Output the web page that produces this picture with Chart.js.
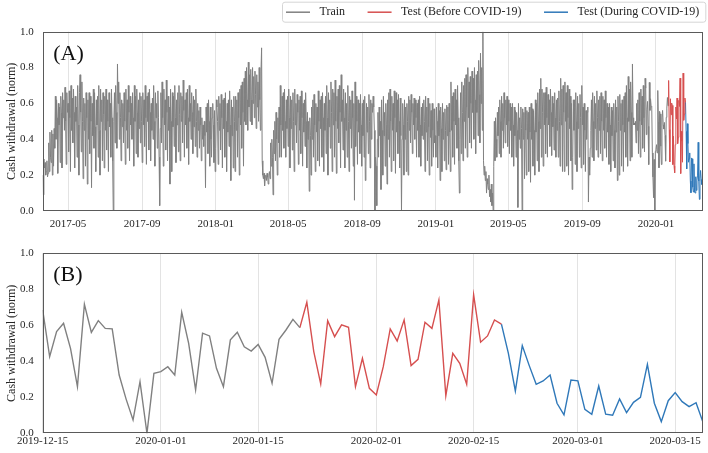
<!DOCTYPE html>
<html><head><meta charset="utf-8">
<script src="https://cdn.jsdelivr.net/npm/chart.js@4.4.1/dist/chart.umd.min.js"></script>
<style>
html,body{margin:0;padding:0;background:#fff;}
#wrap{position:relative;width:708px;height:453px;overflow:hidden;}
.box{position:absolute;left:0;width:708px;}
</style></head><body>
<div id="wrap">
<div class="box" style="top:0;height:236px"><canvas id="ca" width="708" height="236"></canvas></div>
<div class="box" style="top:236px;height:217px"><canvas id="cb" width="708" height="217"></canvas></div>
</div>
<script>
// ---------------- DATA ----------------
const startDate = '2017-03-20';
const zoomStart = '2019-12-15';
const testStart = '2020-01-21';   // Test (Before COVID-19)
const covidStart = '2020-02-19';  // Test (During COVID-19)
const seriesNames = ['Train', 'Test (Before COVID-19)', 'Test (During COVID-19)'];
const tickLabelsA = ['2017-05','2017-09','2018-01','2018-05','2018-09','2019-01','2019-05','2019-09','2020-01'];
const tickLabelsB = ['2019-12-15','2020-01-01','2020-01-15','2020-02-01','2020-02-15','2020-03-01','2020-03-15'];

// daily normalized cash withdrawal, 2017-03-20 .. 2019-12-14 (estimated from panel A)
const m2017_03 = [.20,.09,.29,.24,.27,.20,.22,.28,.19,.21,.38,.22];
const m2017_04 = [.44,.30,.27,.45,.20,.43,.25,.46,.35,.64,.40,.62,.52,.21,.60,.48,.58,.27,.64,.55,.24,.66,.52,.62,.45,.69,.50,.26,.66,.55];
const m2017_05 = [.60,.33,.67,.52,.22,.70,.45,.63,.38,.68,.55,.24,.64,.50,.58,.30,.70,.48,.20,.66,.76,.55,.33,.72,.50,.18,.63,.45,.60,.25,.66];
const m2017_06 = [.52,.15,.62,.40,.66,.32,.64,.50,.13,.60,.42,.68,.35,.66,.47,.22,.62,.48,.64,.30,.70,.45,.20,.68,.50,.62,.28,.66,.54,.24];
const m2017_07 = [.64,.45,.68,.34,.62,.50,.22,.66,.47,.60,.30,.68,.52,.28,.00,.50,.66,.38,.70,.55,.35,.82,.60,.72,.40,.66,.52,.28,.62,.47,.60];
const m2017_08 = [.38,.66,.50,.26,.68,.45,.62,.35,.70,.55,.28,.64,.48,.60,.40,.66,.52,.25,.70,.50,.64,.32,.68,.55,.30,.62,.46,.66,.38,.64,.50];
const m2017_09 = [.27,.66,.48,.62,.36,.70,.52,.26,.64,.50,.66,.34,.68,.55,.28,.60,.45,.63,.40,.70,.50,.25,.66,.52,.60,.35,.67,.52,.30,.03];
const m2017_10 = [.46,.66,.38,.72,.52,.25,.68,.48,.62,.34,.73,.55,.28,.64,.45,.58,.15,.68,.50,.22,.66,.47,.64,.36,.70,.52,.27,.62,.48,.66,.33];
const m2017_11 = [.70,.54,.28,.66,.50,.64,.38,.73,.56,.30,.62,.48,.66,.35,.68,.52,.26,.70,.50,.60,.40,.66,.55,.32,.64,.47,.62,.36,.68,.50];
const m2017_12 = [.30,.60,.45,.56,.35,.58,.48,.28,.52,.40,.48,.36,.50,.42,.13,.58,.44,.60,.32,.62,.50,.25,.58,.40,.30,.52,.60,.48,.27,.56,.22];
const m2018_01 = [.35,.62,.58,.50,.26,.64,.45,.60,.34,.65,.52,.24,.62,.46,.63,.30,.66,.50,.22,.60,.44,.62,.36,.67,.48,.17,.62,.42,.58,.24,.64];
const m2018_02 = [.50,.22,.64,.45,.62,.30,.66,.52,.20,.68,.48,.70,.35,.72,.55,.25,.74,.50,.78,.48,.80,.62,.45,.83,.58,.76,.50,.79];
const m2018_03 = [.62,.48,.80,.60,.75,.52,.78,.65,.46,.76,.58,.72,.50,.80,.62,.45,.78,.91,.28,.20,.18,.21,.14,.19,.20,.17,.21,.19,.15,.20,.22];
const m2018_04 = [.18,.38,.25,.40,.30,.09,.45,.32,.50,.28,.55,.40,.20,.52,.38,.58,.30,.70,.48,.30,.64,.45,.66,.35,.68,.50,.30,.62,.46,.64];
const m2018_05 = [.36,.68,.52,.24,.64,.46,.62,.34,.66,.50,.22,.68,.48,.60,.38,.65,.55,.26,.62,.45,.64,.32,.67,.52,.25,.60,.44,.62,.36,.66,.50];
const m2018_06 = [.24,.55,.40,.50,.11,.52,.42,.20,.58,.40,.62,.30,.65,.48,.22,.60,.44,.58,.28,.67,.50,.25,.62,.46,.64,.30,.66,.52,.22,.60];
const m2018_07 = [.45,.64,.32,.70,.52,.20,.66,.47,.62,.35,.72,.55,.22,.68,.48,.66,.30,.73,.50,.21,.64,.46,.68,.38,.70,.55,.24,.76,.50,.62,.34];
const m2018_08 = [.68,.52,.24,.66,.45,.60,.30,.70,.50,.22,.64,.46,.62,.35,.67,.52,.25,.60,.06,.72,.36,.64,.50,.26,.62,.44,.60,.32,.65,.48,.25];
const m2018_09 = [.60,.42,.62,.30,.64,.17,.25,.60,.44,.58,.32,.65,.50,.24,.62,.40,.60,.55,.64,.58,.45,.00,.30,.25,.03,.40,.55,.30,.58,.42];
const m2018_10 = [.50,.12,.62,.45,.20,.64,.42,.55,.25,.60,.48,.15,.62,.40,.66,.30,.68,.50,.22,.64,.45,.60,.28,.67,.52,.21,.66,.44,.62,.32,.65];
const m2018_11 = [.50,.24,.63,.42,.00,.40,.60,.48,.20,.62,.40,.58,.22,.60,.50,.20,.64,.45,.62,.38,.65,.55,.32,.60,.48,.63,.40,.62,.52,.30];
const m2018_12 = [.60,.45,.62,.30,.64,.48,.25,.58,.42,.60,.40,.62,.50,.22,.64,.44,.58,.28,.63,.47,.20,.60,.41,.56,.25,.60,.45,.30,.57,.38,.42];
const m2019_01 = [.30,.58,.50,.24,.60,.42,.56,.17,.58,.46,.22,.60,.40,.55,.28,.57,.45,.23,.59,.42,.58,.26,.60,.44,.22,.72,.45,.64,.30,.66,.50];
const m2019_02 = [.26,.68,.48,.62,.35,.70,.52,.28,.10,.40,.66,.32,.72,.55,.28,.70,.50,.74,.35,.76,.58,.30,.80,.52,.72,.38,.75,.60];
const m2019_03 = [.35,.78,.55,.74,.40,.80,.62,.32,.76,.55,.78,.42,.84,.65,.38,.88,.60,.80,.45,1.0,.28,.20,.25,.17,.22,.10,.18,.15,.12,.20,.08];
const m2019_04 = [.12,.05,.15,.03,.10,.00,.25,.50,.28,.52,.40,.30,.55,.42,.58,.32,.62,.50,.30,.64,.45,.60,.35,.66,.52,.38,.62,.48,.64,.36];
const m2019_05 = [.62,.50,.32,.60,.45,.58,.30,.60,.48,.25,.58,.42,.56,.30,.55,.45,.02,.60,.40,.52,.35,.58,.46,.00,.57,.40,.55,.18,.58,.45,.20];
const m2019_06 = [.56,.40,.55,.22,.58,.44,.16,.60,.40,.57,.25,.56,.45,.20,.62,.44,.60,.28,.66,.50,.22,.68,.46,.74,.30,.68,.55,.25,.66,.48];
const m2019_07 = [.66,.32,.69,.52,.30,.65,.48,.62,.36,.68,.55,.31,.64,.47,.60,.34,.66,.52,.30,.62,.45,.63,.30,.67,.50,.25,.74,.48,.68,.22,.70];
const m2019_08 = [.55,.22,.72,.50,.66,.25,.70,.52,.20,.68,.46,.64,.28,.60,.12,.30,.62,.45,.62,.26,.66,.50,.22,.64,.46,.60,.30,.65,.52,.24,.70];
const m2019_09 = [.48,.58,.26,.60,.45,.22,.56,.40,.55,.58,.05,.30,.20,.35,.45,.62,.30,.66,.50,.28,.64,.46,.60,.34,.67,.52,.30,.62,.45,.64];
const m2019_10 = [.32,.66,.50,.28,.64,.45,.62,.35,.67,.52,.30,.60,.44,.58,.26,.60,.48,.22,.58,.42,.56,.28,.60,.45,.24,.62,.44,.58,.17,.64,.50];
const m2019_11 = [.20,.65,.45,.60,.25,.62,.48,.22,.64,.44,.66,.30,.70,.52,.25,.75,.50,.68,.28,.72,.55,.30,.82,.52,.48,.49,.48,.50,.38,.60];
const m2019_12 = [.45,.62,.32,.66,.50,.30,.68,.48,.64,.35,.70,.52,.33,.74];

// daily values 2019-12-15 .. 2020-03-19
const zoomValues = [.685,
  .426,.565,.611,.472,.259,.717,.561,
  .626,.583,.58,.324,.19,.074,.287,
  .0,.333,.343,.37,.324,.672,.5,
  .241,.556,.541,.361,.259,.519,.561,
  .481,.457,.494,.422,.278,.522,.574,
  .633,.587,.728,.454,.274,.626,.537,
  .602,.589,.259,.417,.25,.213,.37,
  .58,.513,.63,.376,.411,.617,.583,
  .741,.209,.444,.389,.272,.769,.506,
  .541,.63,.607,.444,.235,.487,.376,
  .272,.291,.324,.167,.102,.296,.291,
  .133,.106,.263,.106,.1,.191,.115,
  .172,.2,.383,.167,.065,.181,.226,
  .176,.148,.17,.061];

// ---------------- BUILD ----------------
const monthly = [m2017_03,m2017_04,m2017_05,m2017_06,m2017_07,m2017_08,m2017_09,m2017_10,m2017_11,m2017_12,
  m2018_01,m2018_02,m2018_03,m2018_04,m2018_05,m2018_06,m2018_07,m2018_08,m2018_09,m2018_10,m2018_11,m2018_12,
  m2019_01,m2019_02,m2019_03,m2019_04,m2019_05,m2019_06,m2019_07,m2019_08,m2019_09,m2019_10,m2019_11,m2019_12];
const allValues = [].concat(...monthly).concat(zoomValues);

function utc(s){const p=s.split('-').map(Number);return Date.UTC(p[0],p[1]-1,p[2]||1);}
const t0 = utc(startDate);
function dayIndex(s){return Math.round((utc(s)-t0)/864e5);}
const iZoom = dayIndex(zoomStart), iTest = dayIndex(testStart), iCovid = dayIndex(covidStart), iEnd = allValues.length-1;
function seg(a,b){const out=[];for(let i=a;i<=b;i++)out.push({x:i,y:allValues[i]});return out;}

const FONT = "'Liberation Serif','Times New Roman',serif";
const TXT = '#262626';
const COLORS = ['#808080','#d64f4f','#2f78b9'];

const framePlugin = {id:'frame', afterDatasetsDraw(chart){
  const {ctx, chartArea:{left,top,right,bottom}} = chart;
  ctx.save(); ctx.strokeStyle='#5a5a5a'; ctx.lineWidth=1;
  ctx.strokeRect(Math.round(left)+0.5, Math.round(top)+0.5, Math.round(right-left)-1, Math.round(bottom-top)-1);
  const t = chart.options.plugins.panelLabel && chart.options.plugins.panelLabel.text;
  if (t){ ctx.fillStyle='#111'; ctx.font="22px "+FONT; ctx.textBaseline='alphabetic'; ctx.textAlign='left';
    ctx.fillText(t, left+10.5, top+28); }
  ctx.restore();
}};

const legendPlugin = {id:'lineLegend', afterDraw(chart){
  const o = chart.options.plugins.lineLegend; if(!o || !o.show) return;
  const ctx = chart.ctx; ctx.save();
  ctx.font = "12px "+FONT;
  const x0 = 282, y0 = 1.7, h = 20, yc = y0 + h/2;
  let x = x0 + 4;
  const items = chart.data.datasets.map(d=>({text:d.label,color:d.borderColor}));
  const pos = [];
  items.forEach((it,i)=>{ pos.push(x); x += 24 + 9.5 + ctx.measureText(it.text).width + (i<items.length-1?22.5:0); });
  const w = x + 6 - x0;
  ctx.fillStyle='rgba(255,255,255,0.9)'; ctx.strokeStyle='#d5d5d5'; ctx.lineWidth=1;
  ctx.beginPath(); if(ctx.roundRect) ctx.roundRect(x0+0.5,y0+0.5,w,h,2.5); else ctx.rect(x0+0.5,y0+0.5,w,h);
  ctx.fill(); ctx.stroke();
  items.forEach((it,i)=>{
    ctx.strokeStyle=it.color; ctx.lineWidth=1.5; ctx.beginPath(); ctx.moveTo(pos[i],yc+0.5); ctx.lineTo(pos[i]+24,yc+0.5); ctx.stroke();
    ctx.fillStyle=TXT; ctx.textBaseline='middle'; ctx.textAlign='left'; ctx.fillText(it.text,pos[i]+33.5,yc+0.5);
  });
  ctx.restore();
}};

function makeChart(id, segs, tickLabels, xmin, xmax, cfg){
  const tickVals = tickLabels.map(dayIndex);
  return new Chart(document.getElementById(id), {
    type:'line',
    data:{datasets: segs.map((s,i)=>({label:seriesNames[i], data:s, borderColor:COLORS[i], backgroundColor:COLORS[i],
      borderWidth:cfg.lw, pointRadius:0, pointHoverRadius:0, tension:0, fill:false}))},
    options:{
      responsive:false, animation:false, parsing:false, normalized:true,
      events:[],
      layout:{padding:{top:cfg.top,right:5,left:0,bottom:0}},
      plugins:{legend:{display:false}, tooltip:{enabled:false}, panelLabel:{text:cfg.label}, lineLegend:{show:cfg.legend}},
      scales:{
        x:{type:'linear', min:xmin, max:xmax,
          afterBuildTicks:(s)=>{s.ticks = tickVals.map(v=>({value:v}));},
          afterFit:(s)=>{s.height = cfg.xh;},
          ticks:{autoSkip:false, maxRotation:0, padding:cfg.xpad, color:TXT, font:{family:FONT,size:11},
            callback:(v,i)=>tickLabels[i]},
          grid:{color:'#e3e3e3', lineWidth:1, drawTicks:false},
          border:{display:false}},
        y:{min:0, max:1,
          afterFit:(s)=>{s.width = 42.7;},
          ticks:{stepSize:0.2, padding:9, color:TXT, font:{family:FONT,size:11}, callback:(v)=>Number(v).toFixed(1)},
          grid:{display:false, drawTicks:false},
          border:{display:false},
          title:{display:true, text:'Cash withdrawal (norm)', color:TXT, font:{family:FONT,size:12}, padding:{top:4.5,bottom:0}}}
      }
    },
    plugins:[framePlugin, legendPlugin]
  });
}

makeChart('ca', [seg(0,iTest), seg(iTest,iCovid), seg(iCovid,iEnd)], tickLabelsA, 0, iEnd,
  {lw:1.0, top:31.7, xh:25, xpad:7, label:'(A)', legend:true});
makeChart('cb', [seg(iZoom,iTest), seg(iTest,iCovid), seg(iCovid,iEnd)], tickLabelsB, iZoom, iEnd,
  {lw:1.4, top:17.3, xh:19.7, xpad:1, label:'(B)', legend:false});
</script>
</body></html>
